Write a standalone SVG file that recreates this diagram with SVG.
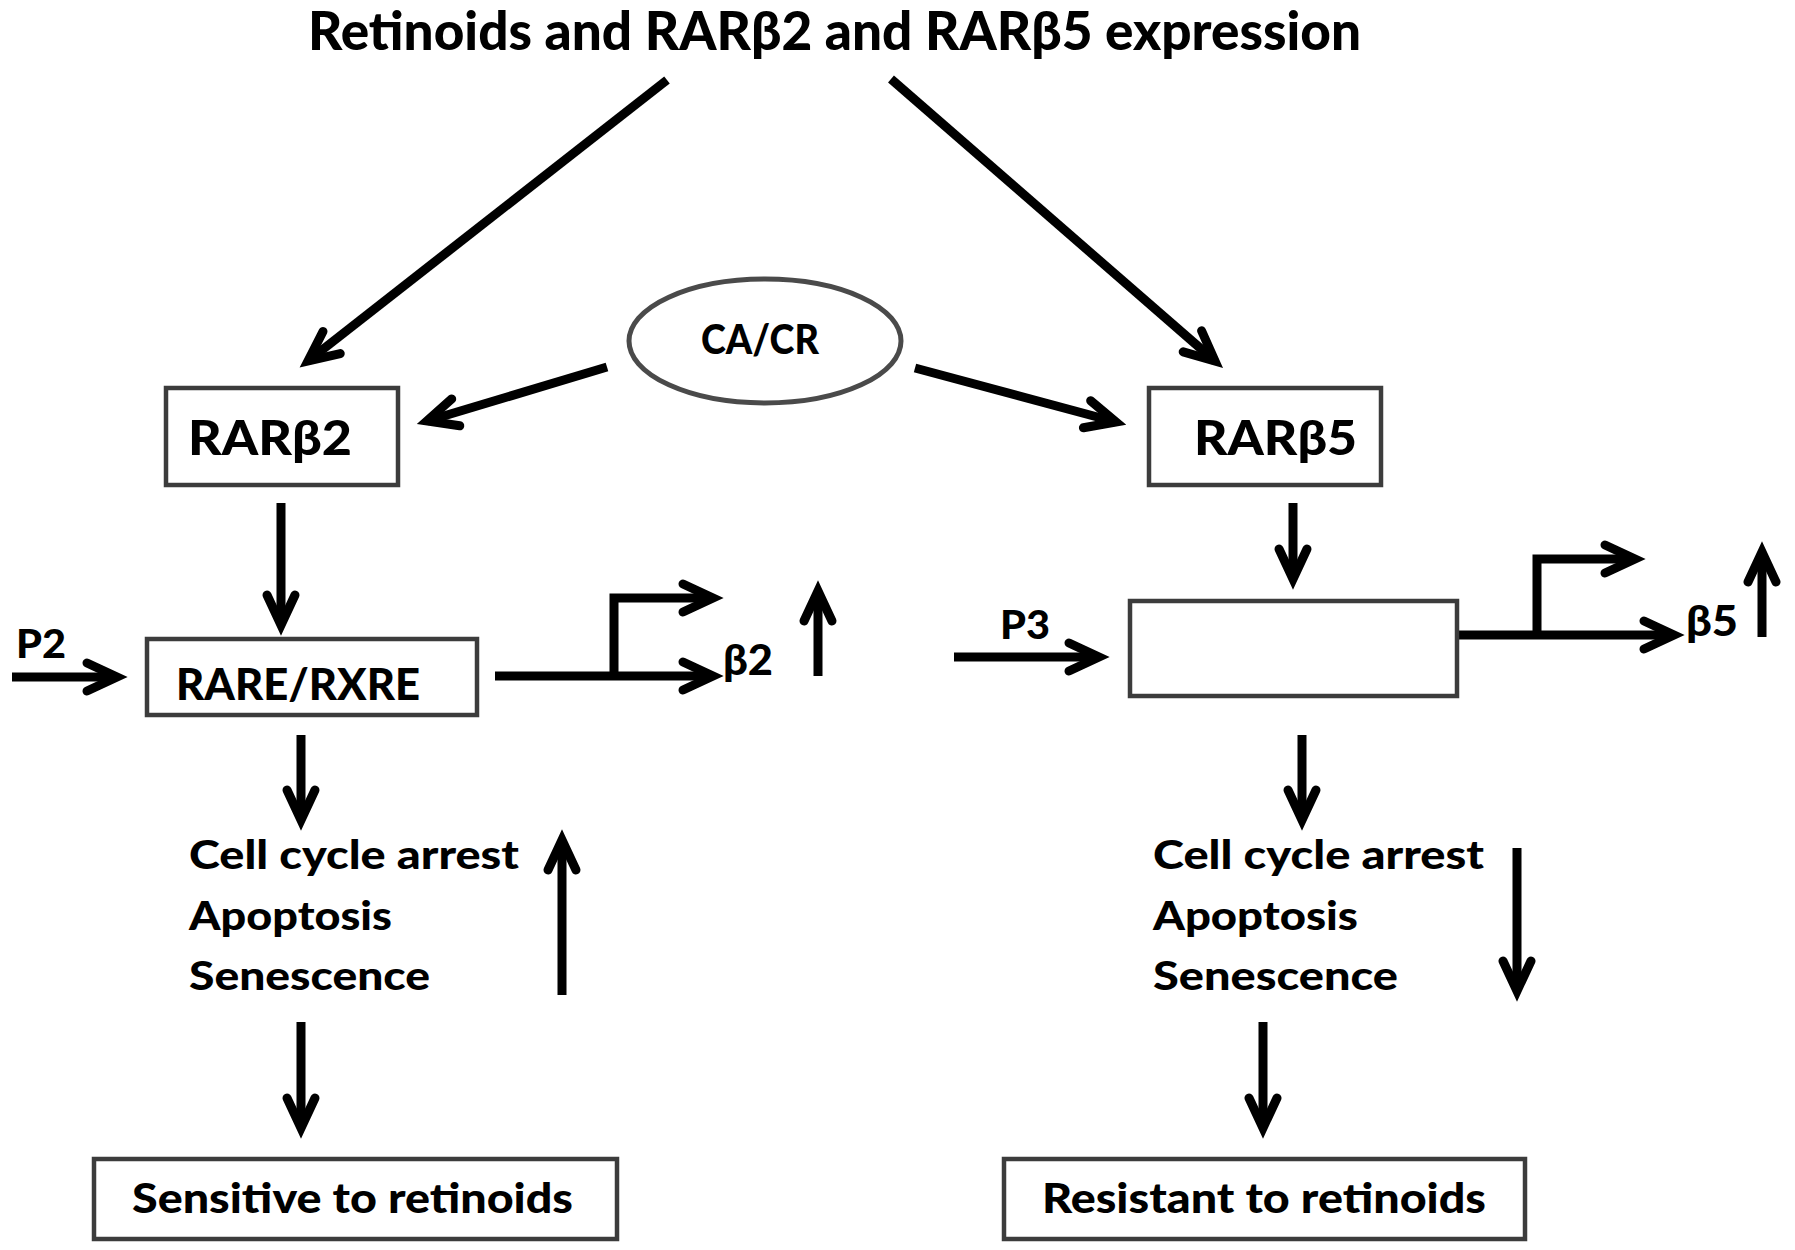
<svg xmlns="http://www.w3.org/2000/svg" width="1795" height="1250" viewBox="0 0 1795 1250">
  <style>
    text { font-family: Lato, "Liberation Sans", sans-serif; font-weight: 900; fill: #000; }
    .box { fill: #fff; stroke: #3c3c3c; stroke-width: 4.5; }
    .ell { fill: #fff; stroke: #4a4a4a; stroke-width: 5; }
    .arr { fill: none; stroke: #000; stroke-width: 9; stroke-linejoin: miter; stroke-linecap: butt; marker-end: url(#head); }
  </style>
  <defs>
    <marker id="head" markerUnits="userSpaceOnUse" orient="auto" refX="0" refY="0" markerWidth="60" markerHeight="60" overflow="visible">
      <path d="M-30,-14 L0,0 L-30,14" fill="none" stroke="#000" stroke-width="9" stroke-linecap="round" stroke-linejoin="miter"/>
    </marker>
  </defs>
  <rect width="1795" height="1250" fill="#fff"/>

  <g id="title">
    <text x="308" y="50" font-size="53" textLength="1053" lengthAdjust="spacingAndGlyphs">Retinoids and RARβ2 and RARβ5 expression</text>
  </g>

  <g id="connectors">
    <path class="arr" d="M667,80 L308,361"/>
    <path class="arr" d="M891,79 L1215,361"/>
    <path class="arr" d="M607,367 L427,421"/>
    <path class="arr" d="M915,368 L1116,422"/>
    <path class="arr" d="M281,503 V625"/>
    <path class="arr" d="M1293,503 V579"/>
    <path class="arr" d="M12,677 H117"/>
    <path class="arr" d="M495,676 H713"/>
    <path class="arr" d="M614,676 V598 H713"/>
    <path class="arr" d="M818,676 V591"/>
    <path class="arr" d="M301,735 V820"/>
    <path class="arr" d="M562,995 V840"/>
    <path class="arr" d="M301,1022 V1128"/>
    <path class="arr" d="M954,657 H1099"/>
    <path class="arr" d="M1459,635 H1674"/>
    <path class="arr" d="M1537,635 V559 H1635"/>
    <path class="arr" d="M1762,637 V552"/>
    <path class="arr" d="M1302,735 V820"/>
    <path class="arr" d="M1517,848 V991"/>
    <path class="arr" d="M1263,1022 V1128"/>
  </g>

  <g id="cacr">
    <ellipse class="ell" cx="765" cy="341" rx="136" ry="62"/>
    <text x="701" y="354" font-size="41" textLength="118" lengthAdjust="spacingAndGlyphs">CA/CR</text>
  </g>

  <g id="rarb2">
    <rect class="box" x="166" y="388" width="232" height="97"/>
    <text x="188" y="455" font-size="47" textLength="164" lengthAdjust="spacingAndGlyphs">RARβ2</text>
  </g>

  <g id="rarb5">
    <rect class="box" x="1149" y="388" width="232" height="97"/>
    <text x="1194" y="455" font-size="47" textLength="163" lengthAdjust="spacingAndGlyphs">RARβ5</text>
  </g>

  <g id="rare">
    <rect class="box" x="147" y="639" width="330" height="76"/>
    <text x="176" y="700" font-size="43" textLength="244" lengthAdjust="spacingAndGlyphs">RARE/RXRE</text>
  </g>

  <g id="p2">
    <text x="16" y="658" font-size="39" textLength="50" lengthAdjust="spacingAndGlyphs">P2</text>
  </g>

  <g id="b2">
    <text x="723" y="675" font-size="42" textLength="50" lengthAdjust="spacingAndGlyphs">β2</text>
  </g>

  <g id="p3">
    <text x="1000" y="639" font-size="39" textLength="50" lengthAdjust="spacingAndGlyphs">P3</text>
  </g>

  <g id="promoter5">
    <rect class="box" x="1130" y="601" width="327" height="95"/>
  </g>

  <g id="b5">
    <text x="1686" y="636" font-size="42" textLength="52" lengthAdjust="spacingAndGlyphs">β5</text>
  </g>

  <g id="effects2">
    <text x="189" y="869" font-size="40" textLength="330" lengthAdjust="spacingAndGlyphs">Cell  cycle arrest</text>
    <text x="189" y="930" font-size="40" textLength="203" lengthAdjust="spacingAndGlyphs">Apoptosis</text>
    <text x="189" y="990" font-size="40" textLength="241" lengthAdjust="spacingAndGlyphs">Senescence</text>
  </g>

  <g id="effects5">
    <text x="1153" y="869" font-size="40" textLength="331" lengthAdjust="spacingAndGlyphs">Cell  cycle arrest</text>
    <text x="1153" y="930" font-size="40" textLength="205" lengthAdjust="spacingAndGlyphs">Apoptosis</text>
    <text x="1153" y="990" font-size="40" textLength="245" lengthAdjust="spacingAndGlyphs">Senescence</text>
  </g>

  <g id="sensitive">
    <rect class="box" x="94" y="1159" width="523" height="80"/>
    <text x="132" y="1213" font-size="41" textLength="441" lengthAdjust="spacingAndGlyphs">Sensitive to retinoids</text>
  </g>

  <g id="resistant">
    <rect class="box" x="1004" y="1159" width="521" height="80"/>
    <text x="1042" y="1213" font-size="41" textLength="444" lengthAdjust="spacingAndGlyphs">Resistant to retinoids</text>
  </g>
</svg>
